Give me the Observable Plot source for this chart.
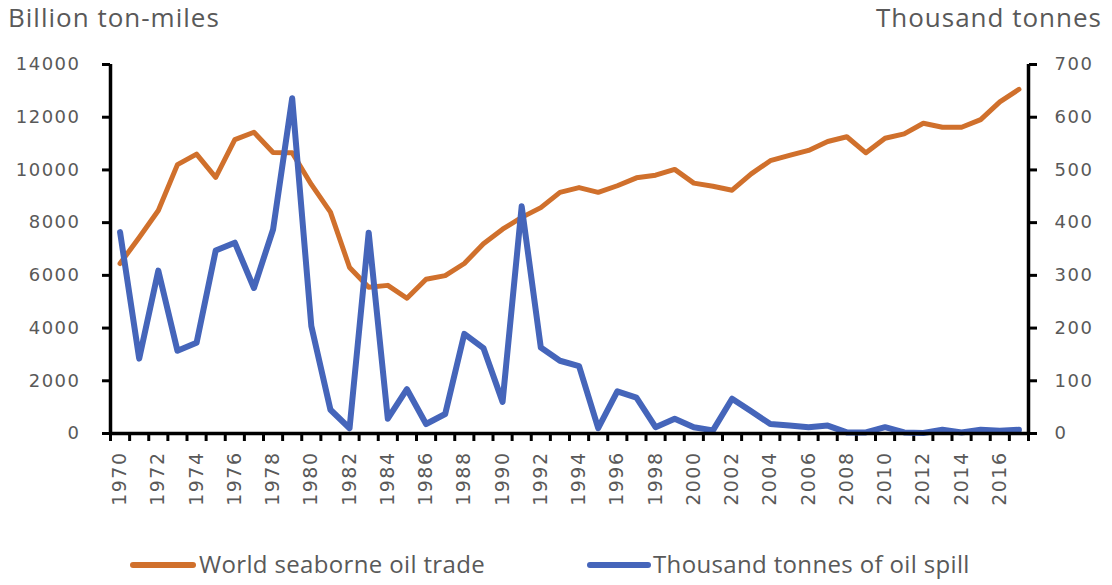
<!DOCTYPE html>
<html>
<head>
<meta charset="utf-8">
<script src="https://cdn.jsdelivr.net/npm/d3@7"></script>
<script src="https://cdn.jsdelivr.net/npm/@observablehq/plot@0.6"></script>
<style>
  html, body { margin: 0; padding: 0; background: #fff; }
  #wrap { position: relative; width: 1112px; height: 585px; overflow: hidden; }
  .ttl { position: absolute; font-family: "Open Sans", sans-serif; font-size: 26px; line-height: 36px; letter-spacing: 1px; color: #595959; white-space: nowrap; }
  .leg { position: absolute; font-family: "Open Sans", sans-serif; font-size: 24px; line-height: 30px; letter-spacing: 0.35px; color: #595959; white-space: nowrap; }
  .sw { position: absolute; height: 6px; border-radius: 3px; }
</style>
</head>
<body>
<div id="wrap"></div>
<script>
const years = [1970,1971,1972,1973,1974,1975,1976,1977,1978,1979,1980,1981,1982,1983,1984,1985,1986,1987,1988,1989,1990,1991,1992,1993,1994,1995,1996,1997,1998,1999,2000,2001,2002,2003,2004,2005,2006,2007,2008,2009,2010,2011,2012,2013,2014,2015,2016,2017];
const seaborneTrade = [6450,7440,8460,10200,10600,9720,11150,11430,10660,10650,9450,8400,6300,5550,5620,5130,5850,5990,6450,7200,7750,8200,8570,9150,9330,9150,9400,9700,9800,10020,9500,9380,9230,9850,10350,10550,10740,11080,11260,10650,11200,11370,11770,11620,11620,11910,12580,13060];
const oilSpill = [382,142,309,157,172,347,362,276,387,636,204,45,10,381,28,84,18,37,189,162,60,431,163,138,128,10,80,68,12,28,12,6,66,42,18,15,12,15,2,2,12,2,1,7,2,7,5,7];
const leftTicks = [0,2000,4000,6000,8000,10000,12000,14000];
const rightTicks = [0,100,200,300,400,500,600,700];
const labelYears = [1970,1972,1974,1976,1978,1980,1982,1984,1986,1988,1990,1992,1994,1996,1998,2000,2002,2004,2006,2008,2010,2012,2014,2016];
const leftTitle = "Billion ton-miles";
const rightTitle = "Thousand tonnes";
const seriesNames = ["World seaborne oil trade", "Thousand tonnes of oil spill"];
const colors = ["#D0702C", "#4565BA"];

const ratio = 14000 / 700;
const trade = years.map((y, i) => ({year: y, v: seaborneTrade[i]}));
const spill = years.map((y, i) => ({year: y, v: oilSpill[i] * ratio}));
const boundaries = years.map(y => y - 0.5).concat([years[years.length - 1] + 0.5]);

const chart = Plot.plot({
  width: 1112,
  height: 520,
  marginLeft: 110,
  marginRight: 84,
  marginTop: 64,
  marginBottom: 87,
  style: {fontFamily: "DejaVu Sans", fontSize: "17px", background: "transparent"},
  x: {domain: [1969.5, 2017.5], label: null},
  y: {domain: [0, 14000], label: null},
  marks: [
    Plot.axisX({ticks: boundaries, tickFormat: () => "", tickSize: 8, strokeWidth: 3, stroke: "#000", label: null}),
    Plot.axisX({ticks: labelYears, tickFormat: d => String(d), tickSize: 0, tickPadding: 18, tickRotate: -90, fill: "#595959", fontSize: 19, label: null}),
    Plot.axisY({anchor: "left", ticks: leftTicks, tickFormat: d => String(d), tickSize: 8, tickPadding: 22, strokeWidth: 3, stroke: "#000", fill: "#595959", fontSize: 18, label: null}),
    Plot.axisY({anchor: "right", ticks: rightTicks.map(d => d * ratio), tickFormat: d => String(Math.round(d / ratio)), tickSize: 8, tickPadding: 18, strokeWidth: 3, stroke: "#000", fill: "#595959", fontSize: 18, label: null}),
    Plot.ruleX([1969.5, 2017.5], {stroke: "#000", strokeWidth: 3.5}),
    Plot.line(trade, {x: "year", y: "v", stroke: colors[0], strokeWidth: 5, strokeLinejoin: "round", strokeLinecap: "round"}),
    Plot.line(spill, {x: "year", y: "v", stroke: colors[1], strokeWidth: 6, strokeLinejoin: "round", strokeLinecap: "round"}),
    Plot.ruleY([0], {stroke: "#000", strokeWidth: 3.5})
  ]
});
chart.style.position = "absolute";
chart.style.left = "0px";
chart.style.top = "0px";
chart.querySelectorAll("text").forEach(t => { t.style.letterSpacing = "1.5px"; });
const wrap = document.getElementById("wrap");
wrap.appendChild(chart);

function addDiv(cls, text, css) {
  const d = document.createElement("div");
  d.className = cls;
  if (text) d.textContent = text;
  Object.assign(d.style, css);
  wrap.appendChild(d);
  return d;
}
addDiv("ttl", leftTitle, {left: "8px", top: "-1px"});
addDiv("ttl", rightTitle, {right: "10px", top: "-1px"});
addDiv("sw", "", {left: "130px", top: "562px", width: "66px", background: colors[0]});
addDiv("leg", seriesNames[0], {left: "199px", top: "549px"});
addDiv("sw", "", {left: "587px", top: "562px", width: "64px", background: colors[1]});
addDiv("leg", seriesNames[1], {left: "653px", top: "549px"});
</script>
</body>
</html>
